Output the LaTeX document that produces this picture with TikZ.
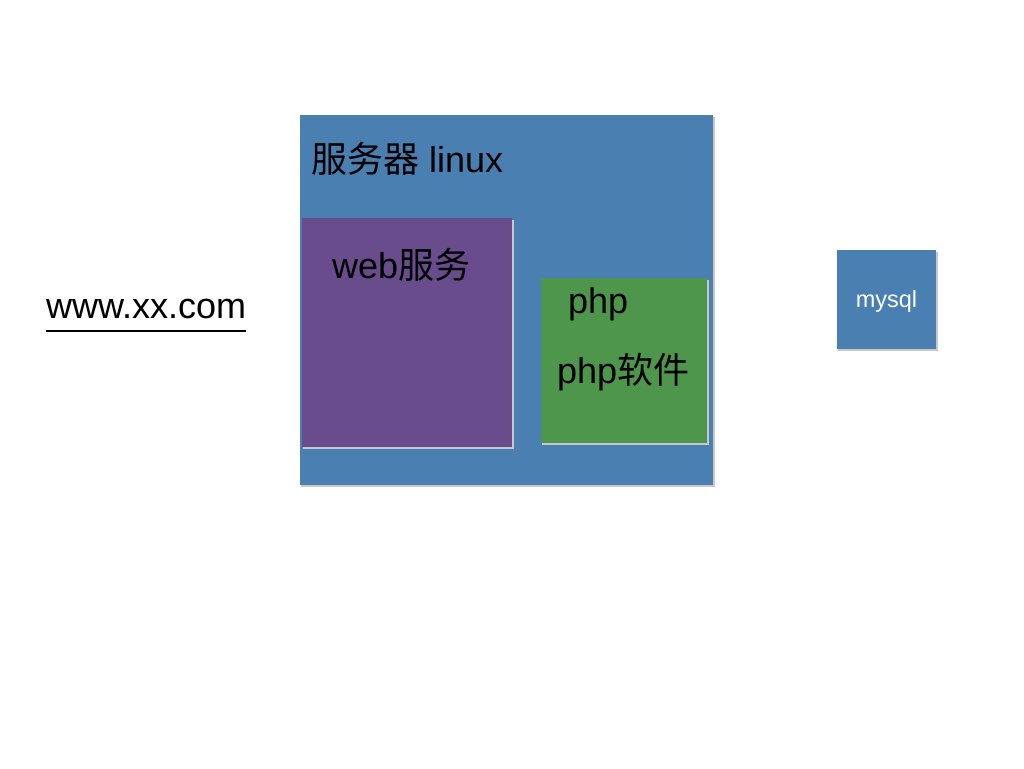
\documentclass[tikz,border=0pt]{standalone}
\usepackage{fontspec}
\setmainfont{Liberation Sans}
\newfontfamily\cjk{Noto Sans CJK SC}
\definecolor{srvblue}{RGB}{74,127,178}
\definecolor{webpurple}{RGB}{104,76,140}
\definecolor{phpgreen}{RGB}{77,150,75}
\definecolor{shadowgray}{RGB}{200,200,200}
\tikzset{
  panel/.style={draw=none, inner sep=0pt, anchor=north west},
  shadowbox/.style={fill=shadowgray, draw=none},
  label36/.style={inner sep=0pt, anchor=base west, font=\fontsize{36}{40}\selectfont},
}
\begin{document}
\begin{tikzpicture}[x=1pt,y=-1pt]
\useasboundingbox[fill=white] (0,0) rectangle (1024,768);
% shadows
\fill[shadowbox] (301,116.5) rectangle (714.5,486.5);
\fill[shadowbox] (838,251.5) rectangle (937.5,350.5);
% server
\node[panel, fill=srvblue, minimum width=413pt, minimum height=370pt] (server) at (300,115) {};
\node[label36] (srvlabel) at (311,172) {{\cjk 服务器} linux};
% web
\fill[shadowbox] (303,219.5) rectangle (513.5,448.5);
\node[panel, fill=webpurple, minimum width=210pt, minimum height=229pt] (web) at (302,218) {};
\node[label36] (weblabel) at (332,278) {web{\cjk 服务}};
% php
\fill[shadowbox] (542,279.5) rectangle (708.5,444.5);
\node[panel, fill=phpgreen, minimum width=166pt, minimum height=165pt] (php) at (541,278) {};
\node[label36] (phplabel) at (568,313) {php};
\node[label36] (phpsoft) at (557,383) {php{\cjk 软件}};
% mysql
\node[panel, fill=srvblue, minimum width=99pt, minimum height=99pt] (mysql) at (837,250) {};
\node[inner sep=0pt, anchor=base, text=white, font=\fontsize{23.5}{26}\selectfont] (mysqllabel) at (886.5,307) {mysql};
% url
\node[label36] (url) at (46,318) {www.xx.com};
\draw[line width=2pt] ([yshift=-13pt]url.base west) -- ([yshift=-13pt]url.base east);
\end{tikzpicture}
\end{document}
